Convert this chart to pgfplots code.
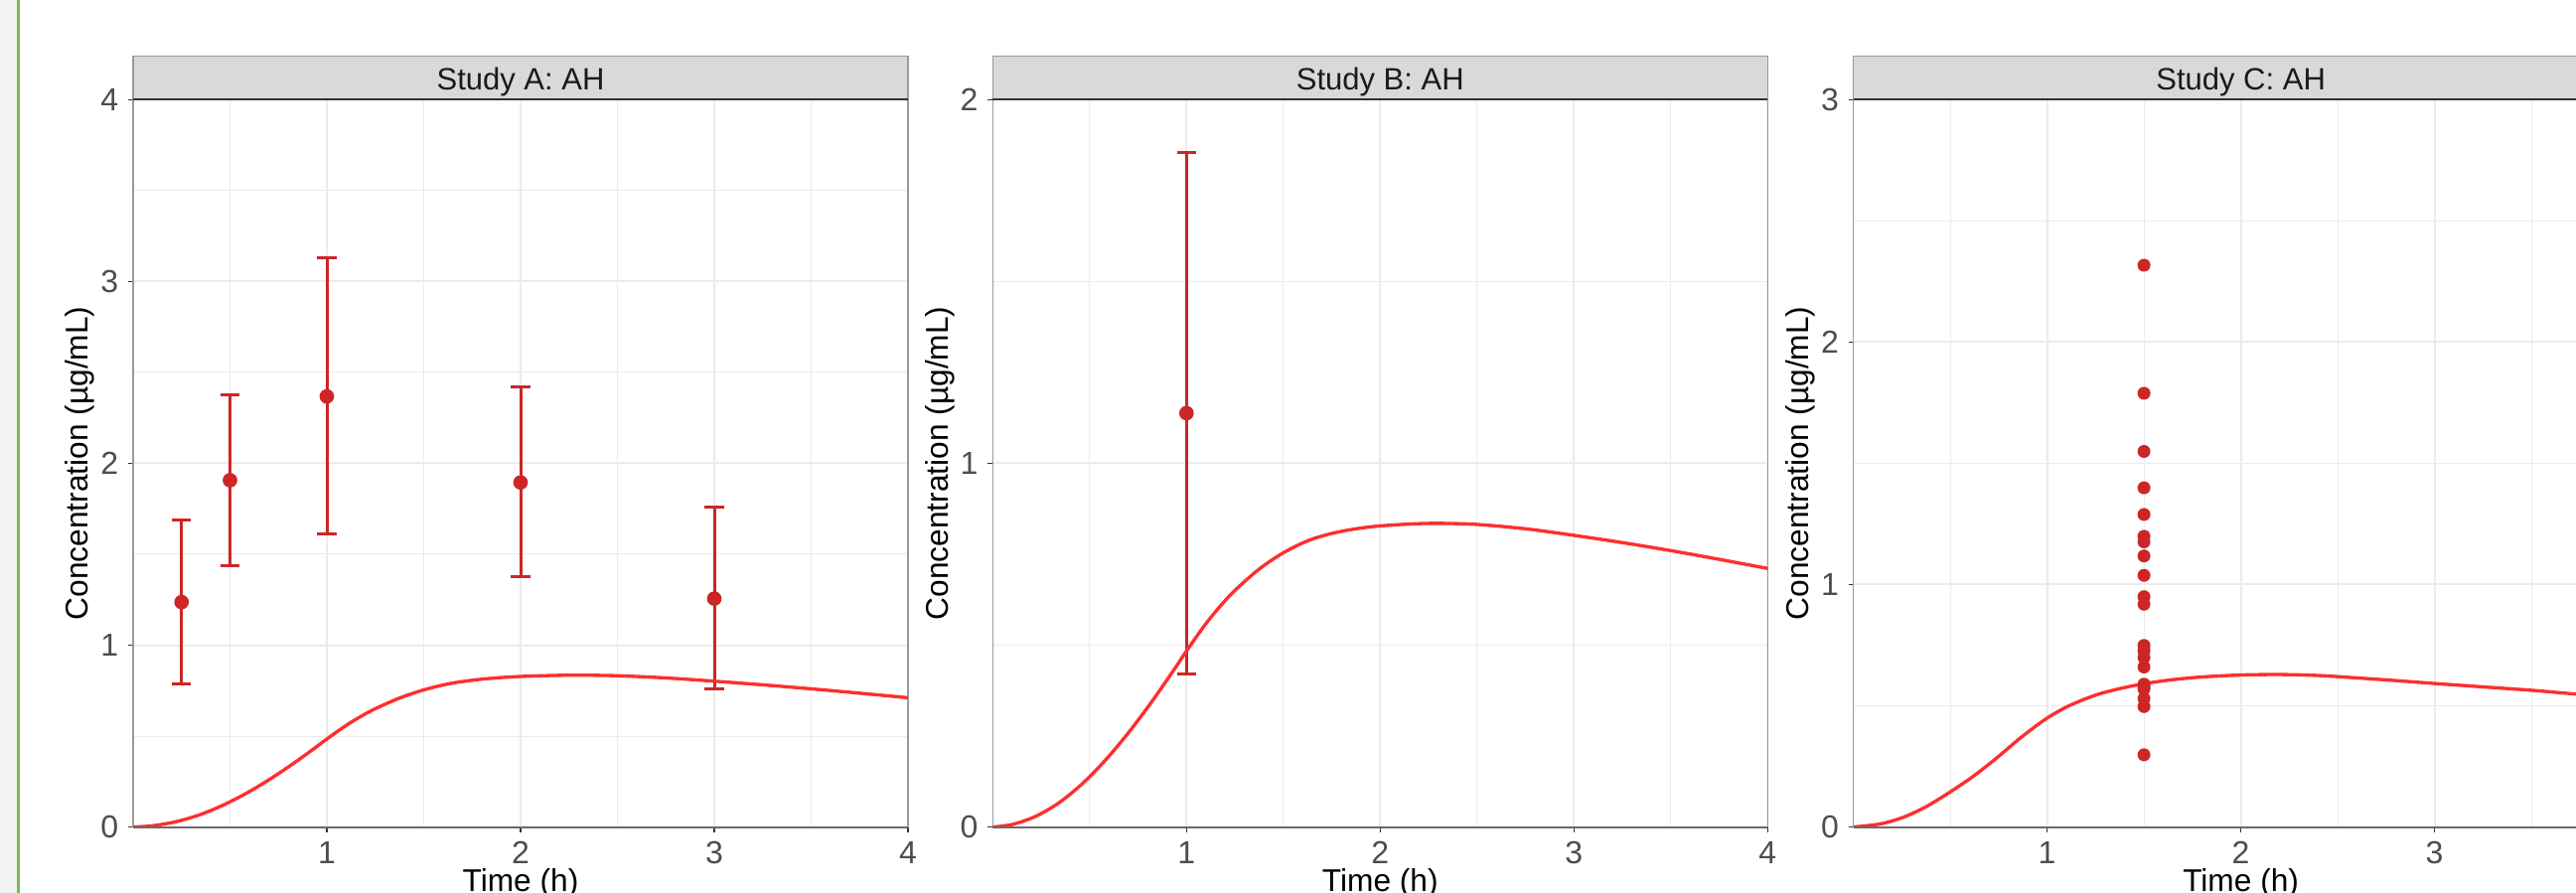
\documentclass[border=0pt]{standalone}
\usepackage{pgfplots}
\usepackage{pgfplotstable}
\pgfplotsset{compat=1.18}
\usepackage{fontspec}
\setmainfont{Liberation Sans}

\definecolor{ptred}{HTML}{CC2626}
\definecolor{curvered}{HTML}{FF2E2E}
\definecolor{gridgray}{HTML}{EBEBEB}
\definecolor{framegray}{HTML}{9A9A9A}
\definecolor{basegray}{HTML}{6A6A6A}
\definecolor{darkline}{HTML}{333333}
\definecolor{stripfill}{HTML}{D9D9D9}
\definecolor{striptext}{HTML}{1A1A1A}
\definecolor{ticktext}{HTML}{4D4D4D}
\definecolor{leftgray}{HTML}{F3F3F3}
\definecolor{leftgreen}{RGB}{122,190,76}

% observed mean +/- SD
\pgfplotstableread{
t    conc  sdp   sdm
0.25 1.237 0.451 0.448
0.50 1.907 0.470 0.470
1.00 2.368 0.761 0.758
2.00 1.895 0.523 0.520
3.00 1.256 0.504 0.498
}\obsA

\pgfplotstableread{
t    conc  sdp   sdm
1.00 1.138 0.717 0.717
}\obsB

% individual observations, study C
\pgfplotstableread{
t    conc
1.5 2.317
1.5 1.789
1.5 1.549
1.5 1.399
1.5 1.289
1.5 1.199
1.5 1.176
1.5 1.118
1.5 1.038
1.5 0.950
1.5 0.919
1.5 0.749
1.5 0.727
1.5 0.699
1.5 0.660
1.5 0.589
1.5 0.578
1.5 0.569
1.5 0.530
1.5 0.497
1.5 0.298
}\obsC

% model prediction, studies A and B
\pgfplotstableread{
t    conc
0.00 0.000
0.10 0.007
0.22 0.029
0.34 0.066
0.46 0.118
0.58 0.183
0.70 0.259
0.82 0.344
0.94 0.436
1.00 0.484
1.11 0.566
1.23 0.640
1.37 0.707
1.50 0.754
1.64 0.790
1.79 0.812
1.96 0.826
2.15 0.833
2.30 0.835
2.50 0.832
2.75 0.820
3.00 0.802
3.25 0.782
3.50 0.760
3.75 0.736
4.00 0.711
}\predAB

% model prediction, study C
\pgfplotstableread{
t    conc
0.00 0.000
0.14 0.013
0.26 0.041
0.38 0.086
0.50 0.145
0.62 0.210
0.74 0.285
0.86 0.366
0.99 0.444
1.11 0.499
1.25 0.544
1.37 0.570
1.50 0.591
1.64 0.607
1.80 0.619
2.00 0.627
2.20 0.629
2.40 0.625
2.60 0.615
2.80 0.604
3.00 0.592
3.25 0.578
3.50 0.564
3.75 0.547
4.00 0.532
}\predC

\pgfplotsset{
  panel/.style={
    scale only axis, width=234pt, height=219.69pt,
    anchor=south west,
    xmin=0, xmax=4, ymin=0,
    xtick={1,2,3,4}, minor xtick={0.5,1.5,2.5,3.5},
    grid=both,
    major grid style={gridgray, line width=0.6pt},
    minor grid style={gridgray, line width=0.3pt},
    minor tick length=0pt,
    major tick length=1.5pt,
    tick align=outside,
    xtick pos=bottom, ytick pos=left,
    tick style={darkline, line width=0.45pt},
    axis line style={framegray, line width=0.45pt},
    ticklabel style={font=\fontsize{9.6}{11}\selectfont, text=ticktext},
    /pgf/number format/assume math mode=true,
    xticklabel style={anchor=base, yshift=-9.7pt},
    yticklabel style={xshift=0.6pt},
    xlabel={Time (h)},
    ylabel={Concentration (µg/mL)},
    label style={font=\fontsize{9.5}{11}\selectfont, text=black},
    xlabel style={at={(axis description cs:0.5,0)}, anchor=base, yshift=-19.35pt},
    ylabel style={at={(axis description cs:-0.0685,0.5)}, anchor=center},
  },
  strip/.style={
    extra description/.code={
      \draw[fill=stripfill, draw=framegray, line width=0.45pt]
        (axis description cs:0,1) rectangle ([yshift=13.08pt]axis description cs:1,1);
      \draw[darkline, line width=0.6pt] (axis description cs:0,1) -- (axis description cs:1,1);
      \draw[basegray, line width=0.6pt] (axis description cs:0,0) -- (axis description cs:1,0);
      \node[font=\fontsize{9.3}{11}\selectfont, text=striptext, text height=0.716em,
        text depth=0pt, inner sep=0pt] at ([yshift=6.54pt]axis description cs:0.5,1) {#1};
    }
  },
  errs/.style={
    only marks, mark=none, color=ptred,
    error bars/.cd, y dir=both, y explicit,
    error bar style={ptred, line width=0.9pt},
    error mark options={rotate=90, ptred, line width=0.9pt, mark size=2.9pt}
  },
  dots/.style={only marks, mark=*, mark size=1.75pt, mark options={fill=ptred, draw=ptred}},
  pred/.style={no markers, curvered, line width=1pt, smooth},
}

\begin{document}
\begin{tikzpicture}
\path[use as bounding box] (0,0) rectangle (777.9pt,269.7pt);
\clip (0,0) rectangle (777.9pt,269.7pt);
\fill[leftgray] (0,0) rectangle (5.2pt,269.7pt);
\draw[leftgreen, line width=0.8pt] (5.6pt,0) -- (5.6pt,269.7pt);

\begin{axis}[panel, at={(40.2pt,19.92pt)}, ymax=4,
  ytick={0,1,2,3,4}, minor ytick={0.5,1.5,2.5,3.5}, strip={Study A: AH}]
  \addplot[errs] table[x=t, y=conc, y error plus=sdp, y error minus=sdm] {\obsA};
  \addplot[pred] table[x=t, y=conc] {\predAB};
  \addplot[dots] table[x=t, y=conc] {\obsA};
\end{axis}

\begin{axis}[panel, at={(299.79pt,19.92pt)}, ymax=2,
  ytick={0,1,2}, minor ytick={0.5,1.5}, strip={Study B: AH}]
  \addplot[errs] table[x=t, y=conc, y error plus=sdp, y error minus=sdm] {\obsB};
  \addplot[pred] table[x=t, y=conc] {\predAB};
  \addplot[dots] table[x=t, y=conc] {\obsB};
\end{axis}

\begin{axis}[panel, at={(559.68pt,19.92pt)}, ymax=3,
  ytick={0,1,2,3}, minor ytick={0.5,1.5,2.5}, strip={Study C: AH}]
  \addplot[pred] table[x=t, y=conc] {\predC};
  \addplot[dots] table[x=t, y=conc] {\obsC};
\end{axis}
\end{tikzpicture}
\end{document}
